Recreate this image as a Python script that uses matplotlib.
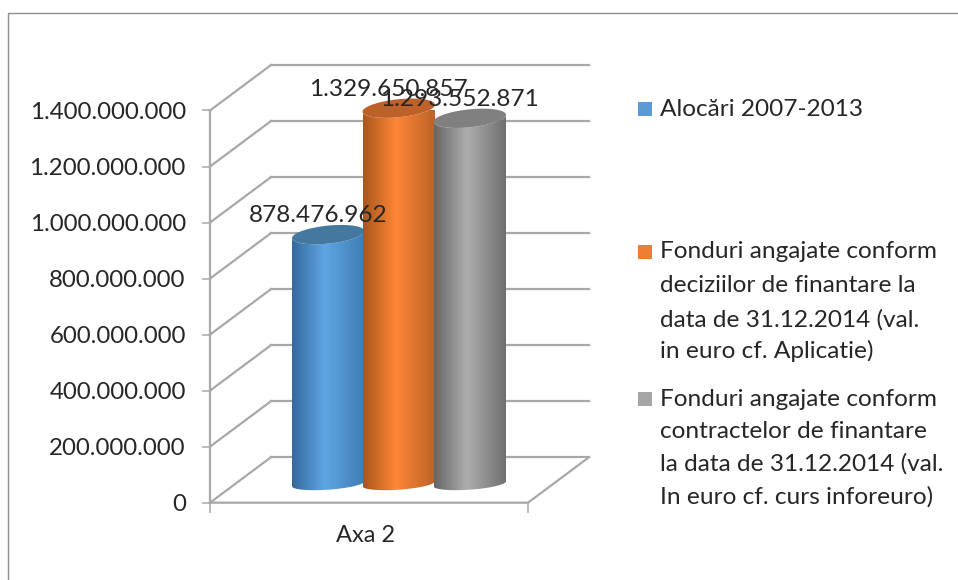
import matplotlib
matplotlib.use('Agg')
import matplotlib.pyplot as plt
import numpy as np
from matplotlib.colors import LinearSegmentedColormap
from matplotlib.path import Path
from matplotlib.patches import PathPatch, Rectangle

W, H = 958, 580

ticks = [0, 200000000, 400000000, 600000000, 800000000, 1000000000, 1200000000, 1400000000]
category = 'Axa 2'
values = [878476962, 1329650857, 1293552871]
legend_lines = [
    ['Alocări 2007-2013'],
    ['Fonduri angajate conform', 'deciziilor de finantare la', 'data de 31.12.2014 (val.', 'in euro cf. Aplicatie)'],
    ['Fonduri angajate conform', 'contractelor de finantare', 'la data de 31.12.2014 (val.', 'In euro cf. curs inforeuro)'],
]

# left, middle, right of the cylinder, then top cap
shades = [
    ['#34699c', '#5fa6e4', '#3f7cb2', '#44789f'],
    ['#a9561c', '#fe8636', '#bb6227', '#bd6128'],
    ['#666666', '#aeaeae', '#6e6e6e', '#808080'],
]
legend_colors = ['#5b9bd5', '#ed7d31', '#a5a5a5']
grid_color = '#a8a8a8'
text_color = '#262626'

plt.rcParams['font.family'] = ['Lato', 'DejaVu Sans']

fig = plt.figure(figsize=(W / 100, H / 100), dpi=100)


def px(x, y):
    return x / W, 1 - y / H


# outer frame, runs off the picture on the right and bottom
fig.add_artist(Rectangle(px(8, 600), 1000, 587 / H, transform=fig.transFigure,
                         fill=False, ec='#8f8f8f', lw=1.0))

x0, x1, y_top, y_zero = 210, 528, 110.5, 502.7
ax = fig.add_axes([x0 / W, 1 - y_zero / H, (x1 - x0) / W, (y_zero - y_top) / H])
ax.set_xlim(0, 1)
ax.set_ylim(0, 1400000000)
ax.patch.set_alpha(0)

# depth of the 3D box in data units
dx = 61 / (x1 - x0)
per_px = 1400000000 / (y_zero - y_top)
dy = 45.5 * per_px

for t in ticks:
    ax.plot([dx, 1 + dx], [t + dy, t + dy], color=grid_color, lw=1.6, clip_on=False, zorder=1)
    ax.plot([0, dx], [t, t + dy], color=grid_color, lw=1.6, clip_on=False, zorder=1)
ax.plot([0, 1, 1 + dx], [0, 0, dy], color=grid_color, lw=1.6, clip_on=False, zorder=1)
ax.plot([0, 0], [0, ticks[-1]], color=grid_color, lw=1.6, clip_on=False, zorder=1)

# cylinders
bar_left = [292, 362.5, 433.5]
bar_w = 72.5 / (x1 - x0)
base = 22 * per_px
bottom = 19 * per_px
cap_b = 9 * per_px
cap_tilt = 3.5 * per_px
foot_b = 6 * per_px
foot_tilt = 2.5 * per_px

for i in range(len(values)):
    left = (bar_left[i] - x0) / (x1 - x0)
    cx = left + bar_w / 2
    a = bar_w / 2
    top = base + values[i]
    t = np.linspace(np.pi, 2 * np.pi, 60)
    xs = cx + a * np.cos(t)
    low = bottom + foot_b * np.sin(t) + foot_tilt * np.cos(t)
    t2 = t[::-1]
    up = top + cap_tilt * np.cos(t2) + cap_b * np.sin(t2)
    verts = list(zip(xs, low)) + list(zip(cx + a * np.cos(t2), up)) + [(xs[0], low[0])]
    codes = [Path.MOVETO] + [Path.LINETO] * (len(verts) - 2) + [Path.CLOSEPOLY]
    body = PathPatch(Path(verts, codes), transform=ax.transData, fc='none', ec='none')
    ax.add_patch(body)
    cmap = LinearSegmentedColormap.from_list('c', [(0, shades[i][0]), (0.45, shades[i][1]), (1, shades[i][2])])
    im = ax.imshow(np.linspace(0, 1, 128).reshape(1, -1), cmap=cmap, aspect='auto',
                   extent=[left, left + bar_w, 0, top + cap_b * 2], zorder=3 + i, clip_on=True)
    im.set_clip_path(body)
    tt = np.linspace(0, 2 * np.pi, 90)
    ax.fill(cx + a * np.cos(tt), top + cap_b * np.sin(tt) + cap_tilt * np.cos(tt),
            color=shades[i][3], lw=0, zorder=3.5 + i, clip_on=False)
    ax.annotate(f'{values[i]:,}'.replace(',', '.'), (cx, top), xytext=(-10.5, 19),
                textcoords='offset pixels', ha='center', va='center',
                fontsize=17.6, color=text_color, zorder=10, annotation_clip=False)

ax.set_xlim(0, 1)
ax.set_ylim(0, 1400000000)

for s in ax.spines.values():
    s.set_visible(False)
ax.set_yticks(ticks, [f'{t:,}'.replace(',', '.') for t in ticks])
ax.set_xticks([0, 1], ['', ''])
ax.set_xticks([0.49], [category], minor=True)
ax.tick_params(axis='y', length=5.5, width=1.1, color=grid_color, labelsize=17.3,
               labelcolor=text_color, pad=12)
ax.tick_params(axis='x', which='major', length=7, width=1.1, color=grid_color)
ax.tick_params(axis='x', which='minor', length=0, labelsize=17, labelcolor=text_color, pad=16)

# legend
legend_y = [[109], [252, 286, 320, 351], [399, 431, 464, 497]]
for i in range(len(legend_lines)):
    sx, sy = px(638, legend_y[i][0] + 7)
    fig.add_artist(Rectangle((sx, sy), 14 / W, 14 / H, transform=fig.transFigure,
                             fc=legend_colors[i], ec='none'))
    for line, y in zip(legend_lines[i], legend_y[i]):
        tx, ty = px(660, y)
        fig.text(tx, ty, line, fontsize=17.6, color=text_color, va='center', ha='left')

fig.savefig('out.png', dpi=100, facecolor='white')
